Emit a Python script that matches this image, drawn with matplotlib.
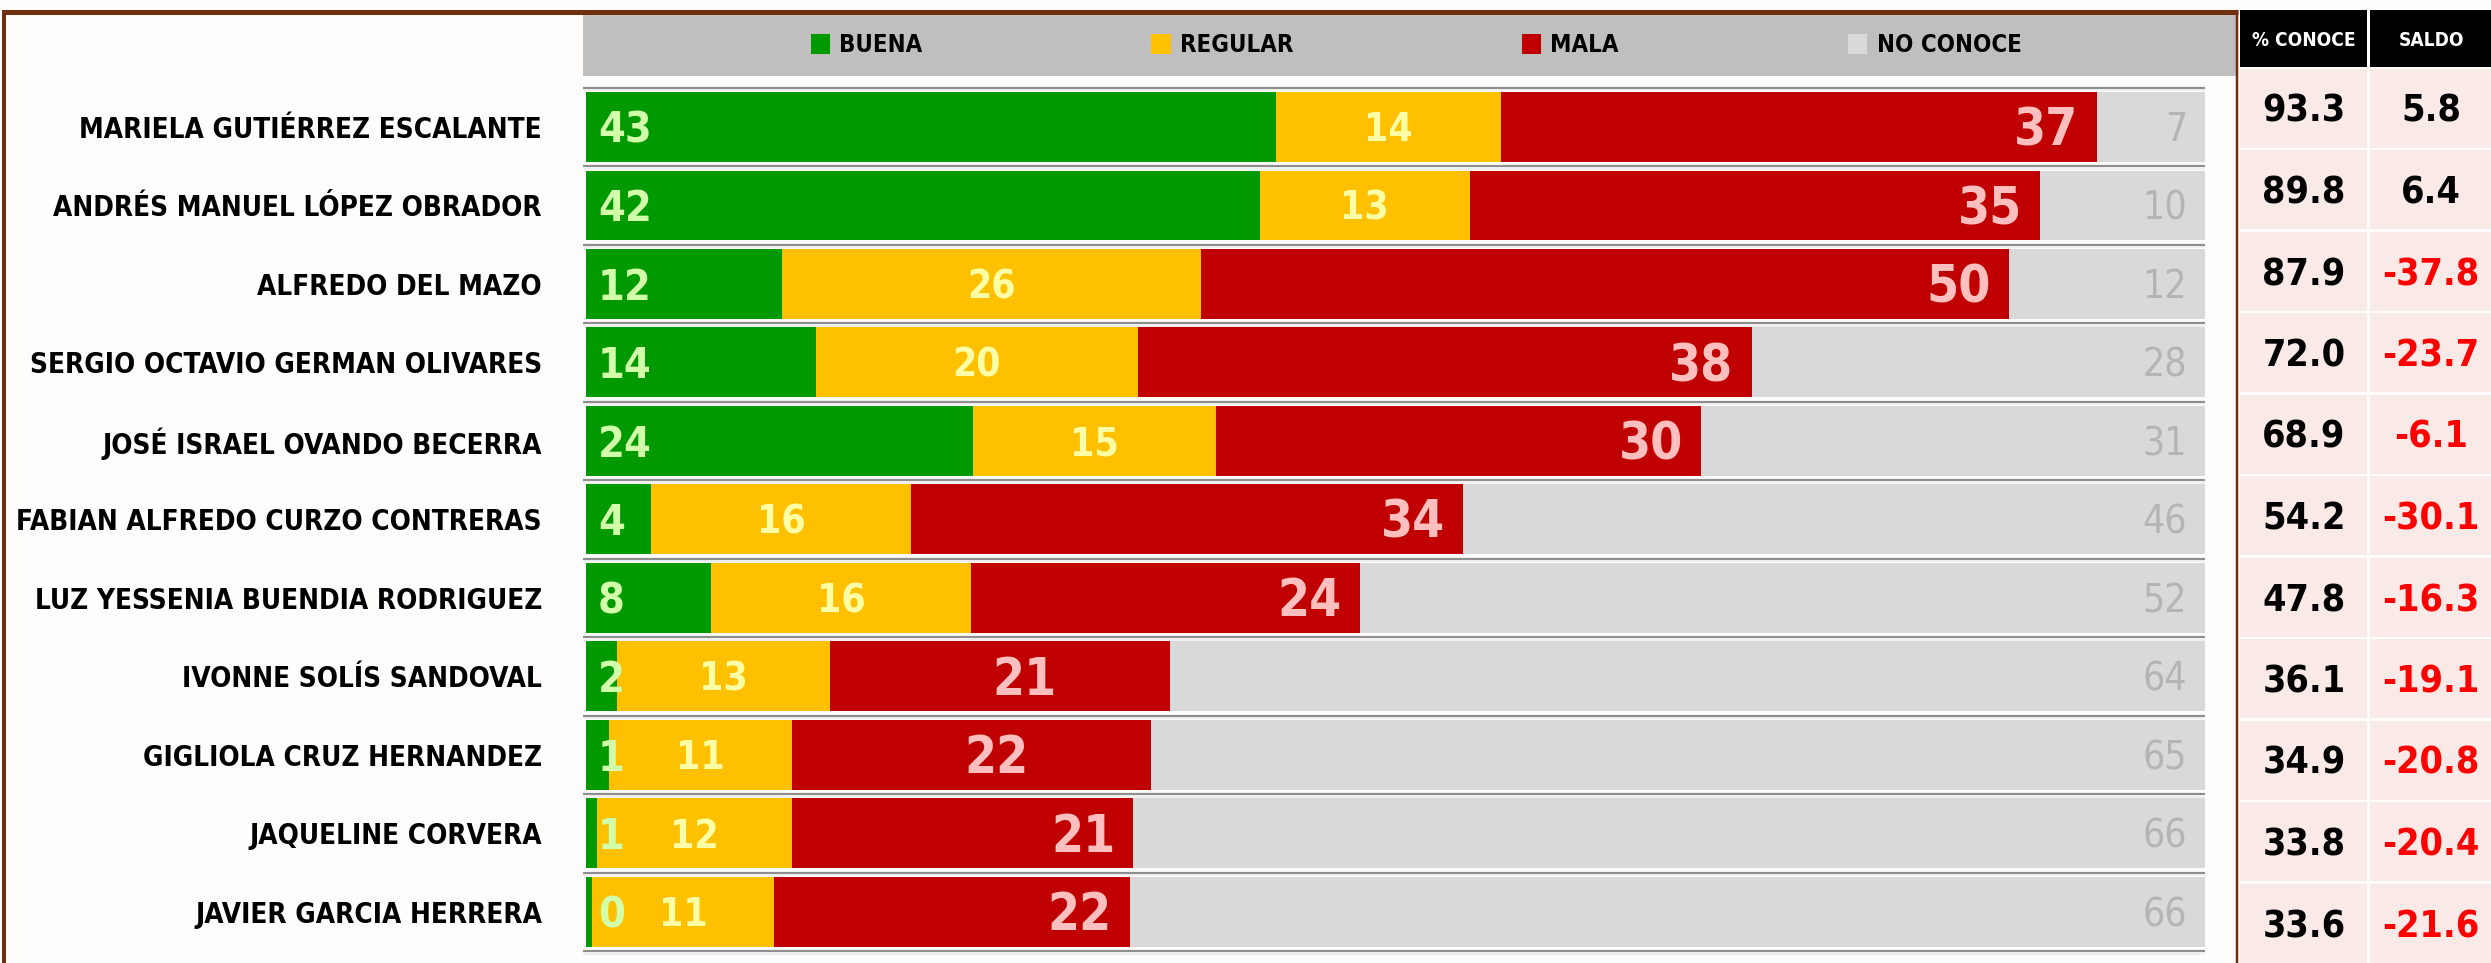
import matplotlib
matplotlib.use("Agg")
import matplotlib.pyplot as plt
from matplotlib.patches import Rectangle, Patch
import numpy as np

# ---------------- data ----------------
candidates = [
    "MARIELA GUTIÉRREZ ESCALANTE",
    "ANDRÉS MANUEL LÓPEZ OBRADOR",
    "ALFREDO DEL MAZO",
    "SERGIO OCTAVIO GERMAN OLIVARES",
    "JOSÉ ISRAEL OVANDO BECERRA",
    "FABIAN ALFREDO CURZO CONTRERAS",
    "LUZ YESSENIA BUENDIA RODRIGUEZ",
    "IVONNE SOLÍS SANDOVAL",
    "GIGLIOLA CRUZ HERNANDEZ",
    "JAQUELINE CORVERA",
    "JAVIER GARCIA HERRERA",
]
buena = [42.6, 41.6, 12.1, 14.2, 23.9, 4.0, 7.7, 1.9, 1.4, 0.7, 0.4]
regular = [13.9, 13.0, 25.9, 19.9, 15.0, 16.1, 16.1, 13.2, 11.3, 12.0, 11.2]
mala = [36.8, 35.2, 49.9, 37.9, 30.0, 34.1, 24.0, 21.0, 22.2, 21.1, 22.0]
no_conoce = [6.7, 10.2, 12.1, 28.0, 31.1, 45.8, 52.2, 63.9, 65.1, 66.2, 66.4]
conoce = [93.3, 89.8, 87.9, 72.0, 68.9, 54.2, 47.8, 36.1, 34.9, 33.8, 33.6]
saldo = [5.8, 6.4, -37.8, -23.7, -6.1, -30.1, -16.3, -19.1, -20.8, -20.4, -21.6]
series_names = ["BUENA", "REGULAR", "MALA", "NO CONOCE"]
table_headers = ["% CONOCE", "SALDO"]

# ---------------- styles ----------------
colors = ["#009900", "#FFC000", "#C00000", "#D9D9D9"]
label_colors = ["#D2FFAA", "#FFFFA6", "#FFBFBF", "#B4B4B4"]
red_anchor = ["end"] * 7 + ["mid", "mid"] + ["end", "end"]

FAM = ["DejaVu Sans"]
plt.rcParams["font.family"] = FAM
plt.rcParams["font.stretch"] = "condensed"

FS_NAMES = 20
FS_GREEN = 31
FS_YELLOW = 28
FS_RED = 37
FS_GRAY = 28
FS_TABLE = 27
FS_THEAD = 13.7
FS_LEG = 17.2

W, H = 2491, 963
BG = "#FFFDFB"
fig = plt.figure(figsize=(W / 100, H / 100), dpi=100, facecolor=BG)
PT = 72 / 100  # points per pixel

# background / decoration axes in pixel coordinates
bax = fig.add_axes([0, 0, 1, 1], zorder=0)
bax.set_xlim(0, W)
bax.set_ylim(H, 0)
bax.axis("off")
bax.set_facecolor("none")

brown = "#703010"
bax.plot([2, 2238], [12.5, 12.5], color=brown, lw=5 * PT, solid_capstyle="butt")
bax.plot([4, 4], [10, H + 10], color=brown, lw=4 * PT, solid_capstyle="butt")
bax.plot([2237, 2237], [10, H + 10], color=brown, lw=2.5 * PT, solid_capstyle="butt")
bax.add_patch(Rectangle((583, 15), 2236 - 583, 61, facecolor="#BFBFBF", edgecolor="none"))

# table on the right
col_x = [(2240, 127), (2370, 125)]
for j, (x0, w) in enumerate(col_x):
    bax.add_patch(Rectangle((x0, 10), w, 57, facecolor="black", edgecolor="none"))
    bax.text(x0 + w / 2 - (1 if j else 0), 40, table_headers[j], color="white",
             fontsize=FS_THEAD, fontweight="bold", ha="center", va="center")
ROW0, PITCH = 69, 81.5
for i in range(len(conoce)):
    top = ROW0 + PITCH * i
    for x0, w in col_x:
        bax.add_patch(Rectangle((x0, top), w, 79, facecolor="#F9E9E7", edgecolor="none"))
    cy = top + 43
    bax.text(col_x[0][0] + 64, cy, f"{conoce[i]:.1f}", fontsize=FS_TABLE, fontweight="bold",
             color="black", ha="center", va="center")
    bax.text(col_x[1][0] + 61, cy, f"{saldo[i]:.1f}", fontsize=FS_TABLE, fontweight="bold",
             color=("#FF0000" if saldo[i] < 0 else "black"), ha="center", va="center")

# ---------------- bar axes ----------------
x0, x1 = 586, 2205
ytop, ybot = 87.75, 951
ax = fig.add_axes([x0 / W, 1 - ybot / H, (x1 - x0) / W, (ybot - ytop) / H], zorder=2)
ax.set_facecolor("none")
n = len(candidates)
y = np.arange(n)
left = np.zeros(n)
series = [buena, regular, mala, no_conoce]
for vals, c in zip(series, colors):
    ax.barh(y, vals, left=left, height=0.89, color=c, linewidth=0)
    left = left + np.array(vals)

ax.set_xlim(0, 100)
ax.set_ylim(n - 0.5, -0.5)
for s in ax.spines.values():
    s.set_visible(False)
ax.set_xticks([])
ax.set_yticks(y)
ax.set_yticklabels(candidates, fontsize=FS_NAMES, fontweight="bold", color="black")
ax.tick_params(axis="y", length=0, pad=44 * PT)

# separators
ax.hlines(np.arange(n + 1) - 0.5, -0.2, 100, color="#8E8E8E", lw=2.2 * PT, clip_on=False, zorder=3)
ax.hlines(np.arange(n + 1) - 0.5 + 0.035, -0.2, 100, color="#EDEDED", lw=1.5 * PT, clip_on=False, zorder=3)


def lab(txt, xy, dx_px, ha, fs, color, weight="bold"):
    ax.annotate(txt, xy=xy, xytext=(dx_px * PT, -0.09 * fs), textcoords="offset points",
                ha=ha, va="center", fontsize=fs, fontweight=weight, color=color)


for i in range(n):
    b, r, m, nc = buena[i], regular[i], mala[i], no_conoce[i]
    lab(f"{b:.0f}", (0, i), 12, "left", FS_GREEN, label_colors[0])
    lab(f"{r:.0f}", (b + r / 2, i), 0, "center", FS_YELLOW, label_colors[1])
    if red_anchor[i] == "end":
        lab(f"{m:.0f}", (b + r + m, i), -18, "right", FS_RED, label_colors[2])
    else:
        lab(f"{m:.0f}", (b + r + 0.57 * m, i), 0, "center", FS_RED, label_colors[2])
    lab(f"{nc:.0f}", (b + r + m + nc, i), -18, "right", FS_GRAY, label_colors[3], weight="normal")

# legend in the header
handles = [Patch(facecolor=c, edgecolor="none") for c in colors]
leg = ax.legend(handles, series_names, loc="center", bbox_to_anchor=(1416 / W, 1 - 45 / H),
                bbox_transform=fig.transFigure, ncol=4, frameon=False,
                prop={"size": FS_LEG, "weight": "bold", "family": FAM},
                handlelength=0.8, handleheight=0.88, handletextpad=0.38, columnspacing=9.6)

fig.savefig("out.png", dpi=100, facecolor=BG)
